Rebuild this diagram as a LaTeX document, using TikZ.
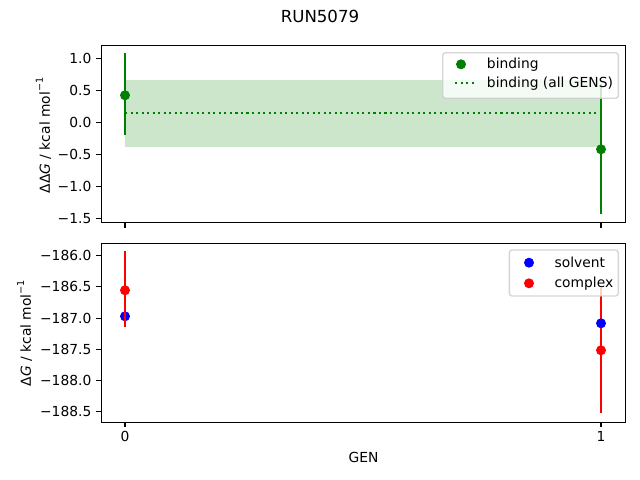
\documentclass[tikz,border=0pt]{standalone}
\usepackage{fontspec}
\setmainfont{DejaVu Sans}
\definecolor{mgreen}{HTML}{008000}
\definecolor{bandc}{HTML}{CCE6CC}
\definecolor{legedge}{HTML}{CCCCCC}
\definecolor{mblue}{HTML}{0000FF}
\definecolor{mred}{HTML}{FF0000}
\newcommand{\supmo}{\raisebox{0.9ex}{\fontsize{7}{7}\selectfont −1}}
\begin{document}
\begin{tikzpicture}[x=0.72bp,y=-0.72bp,
  frame/.style={line width=0.8bp,black},
  tickm/.style={line width=0.8bp,black},
  ticklab/.style={inner sep=0pt,font=\fontsize{10}{12}\selectfont},
  errbar/.style={line width=1.5bp},
  dot/.style={circle,inner sep=0pt,outer sep=0pt,minimum size=7.2bp,fill=#1},
  legbox/.style={fill=white,fill opacity=0.8,draw=legedge,draw opacity=0.8,line width=1bp,rounded corners=2bp},
  legtext/.style={anchor=west,inner sep=0pt,font=\fontsize{10}{12}\selectfont},
  dotline/.style={line width=1.5bp,dash pattern=on 1.5bp off 2.475bp}
]
\useasboundingbox (0,0) rectangle (640,480);
% title
\node[font=\fontsize{12}{14}\selectfont,inner sep=0pt] (title) at (320,16) {RUN5079};

% ---------- top axes ----------
\fill[bandc] (125,80) rectangle (601,146.7);
\draw[dotline,mgreen] (125,112.7) -- (601,112.7);
\coordinate (t0a) at (125,53.3); \coordinate (t0b) at (125,135.3);
\coordinate (t1a) at (601,84.3); \coordinate (t1b) at (601,214.3);
\draw[errbar,mgreen] (t0a) -- (t0b);
\draw[errbar,mgreen] (t1a) -- (t1b);
\node[dot=mgreen] (b0) at (125,95.3) {};
\node[dot=mgreen] (b1) at (601,149.3) {};
\draw[frame] (101.3,45.3) rectangle (625.7,222.7);
\foreach \v/\yy in {1.0/58.66,0.5/90.58,0.0/122.5,−0.5/154.42,−1.0/186.34,−1.5/218.26}{
  \draw[tickm] (101.3,\yy) -- (96.44,\yy);
  \node[ticklab,anchor=east] at (91.6,\yy) {\v};
}
\draw[tickm] (125,222.7) -- (125,227.56);
\draw[tickm] (601,222.7) -- (601,227.56);
\node[rotate=90,inner sep=0pt,font=\fontsize{10}{12}\selectfont] (ylt) at (43.5,135.4) {ΔΔ\textit{G} / kcal mol\supmo};
% legend top
\draw[legbox] (442.7,52.7) rectangle (618.3,98.3);
\node[dot=mgreen] (lg1) at (461,64.3) {};
\node[legtext] (lt1) at (486.7,64.3) {binding};
\draw[dotline,mgreen] (455,83.3) -- (474,83.3);
\node[legtext] (lt2) at (486.7,83.3) {binding (all GENS)};

% ---------- bottom axes ----------
\coordinate (r0a) at (125,251); \coordinate (r0b) at (125,327.3);
\coordinate (r1a) at (601,288); \coordinate (r1b) at (601,413.3);
\node[dot=mblue] (s0) at (125,316.3) {};
\draw[errbar,mred] (r0a) -- (r0b);
\node[dot=mred] (c0) at (125,290.3) {};
\draw[errbar,mred] (r1a) -- (r1b);
\node[dot=mblue] (s1) at (601,323.3) {};
\node[dot=mred] (c1) at (601,350.3) {};
\draw[frame] (101.3,243.3) rectangle (625.7,422.3);
\foreach \v/\yy in {−186.0/255.7,−186.5/286.9,−187.0/318.1,−187.5/349.3,−188.0/380.5,−188.5/411.7}{
  \draw[tickm] (101.3,\yy) -- (96.44,\yy);
  \node[ticklab,anchor=east] at (91.6,\yy) {\v};
}
\draw[tickm] (125,422.3) -- (125,427.16);
\draw[tickm] (601,422.3) -- (601,427.16);
\node[ticklab,anchor=base] (x0) at (125,441.7) {0};
\node[ticklab,anchor=base] (x1) at (601,441.7) {1};
\node[ticklab] (xl) at (363.5,457.3) {GEN};
\node[rotate=90,inner sep=0pt,font=\fontsize{10}{12}\selectfont] (ylb) at (24.7,333) {Δ\textit{G} / kcal mol\supmo};
% legend bottom
\draw[legbox] (509.3,250) rectangle (618.3,296);
\node[dot=mblue] (lg2) at (529,262.7) {};
\node[legtext] (lt3) at (554.3,262.7) {solvent};
\node[dot=mred] (lg3) at (529,283.3) {};
\node[legtext] (lt4) at (554.3,283.3) {complex};
\end{tikzpicture}
\end{document}
